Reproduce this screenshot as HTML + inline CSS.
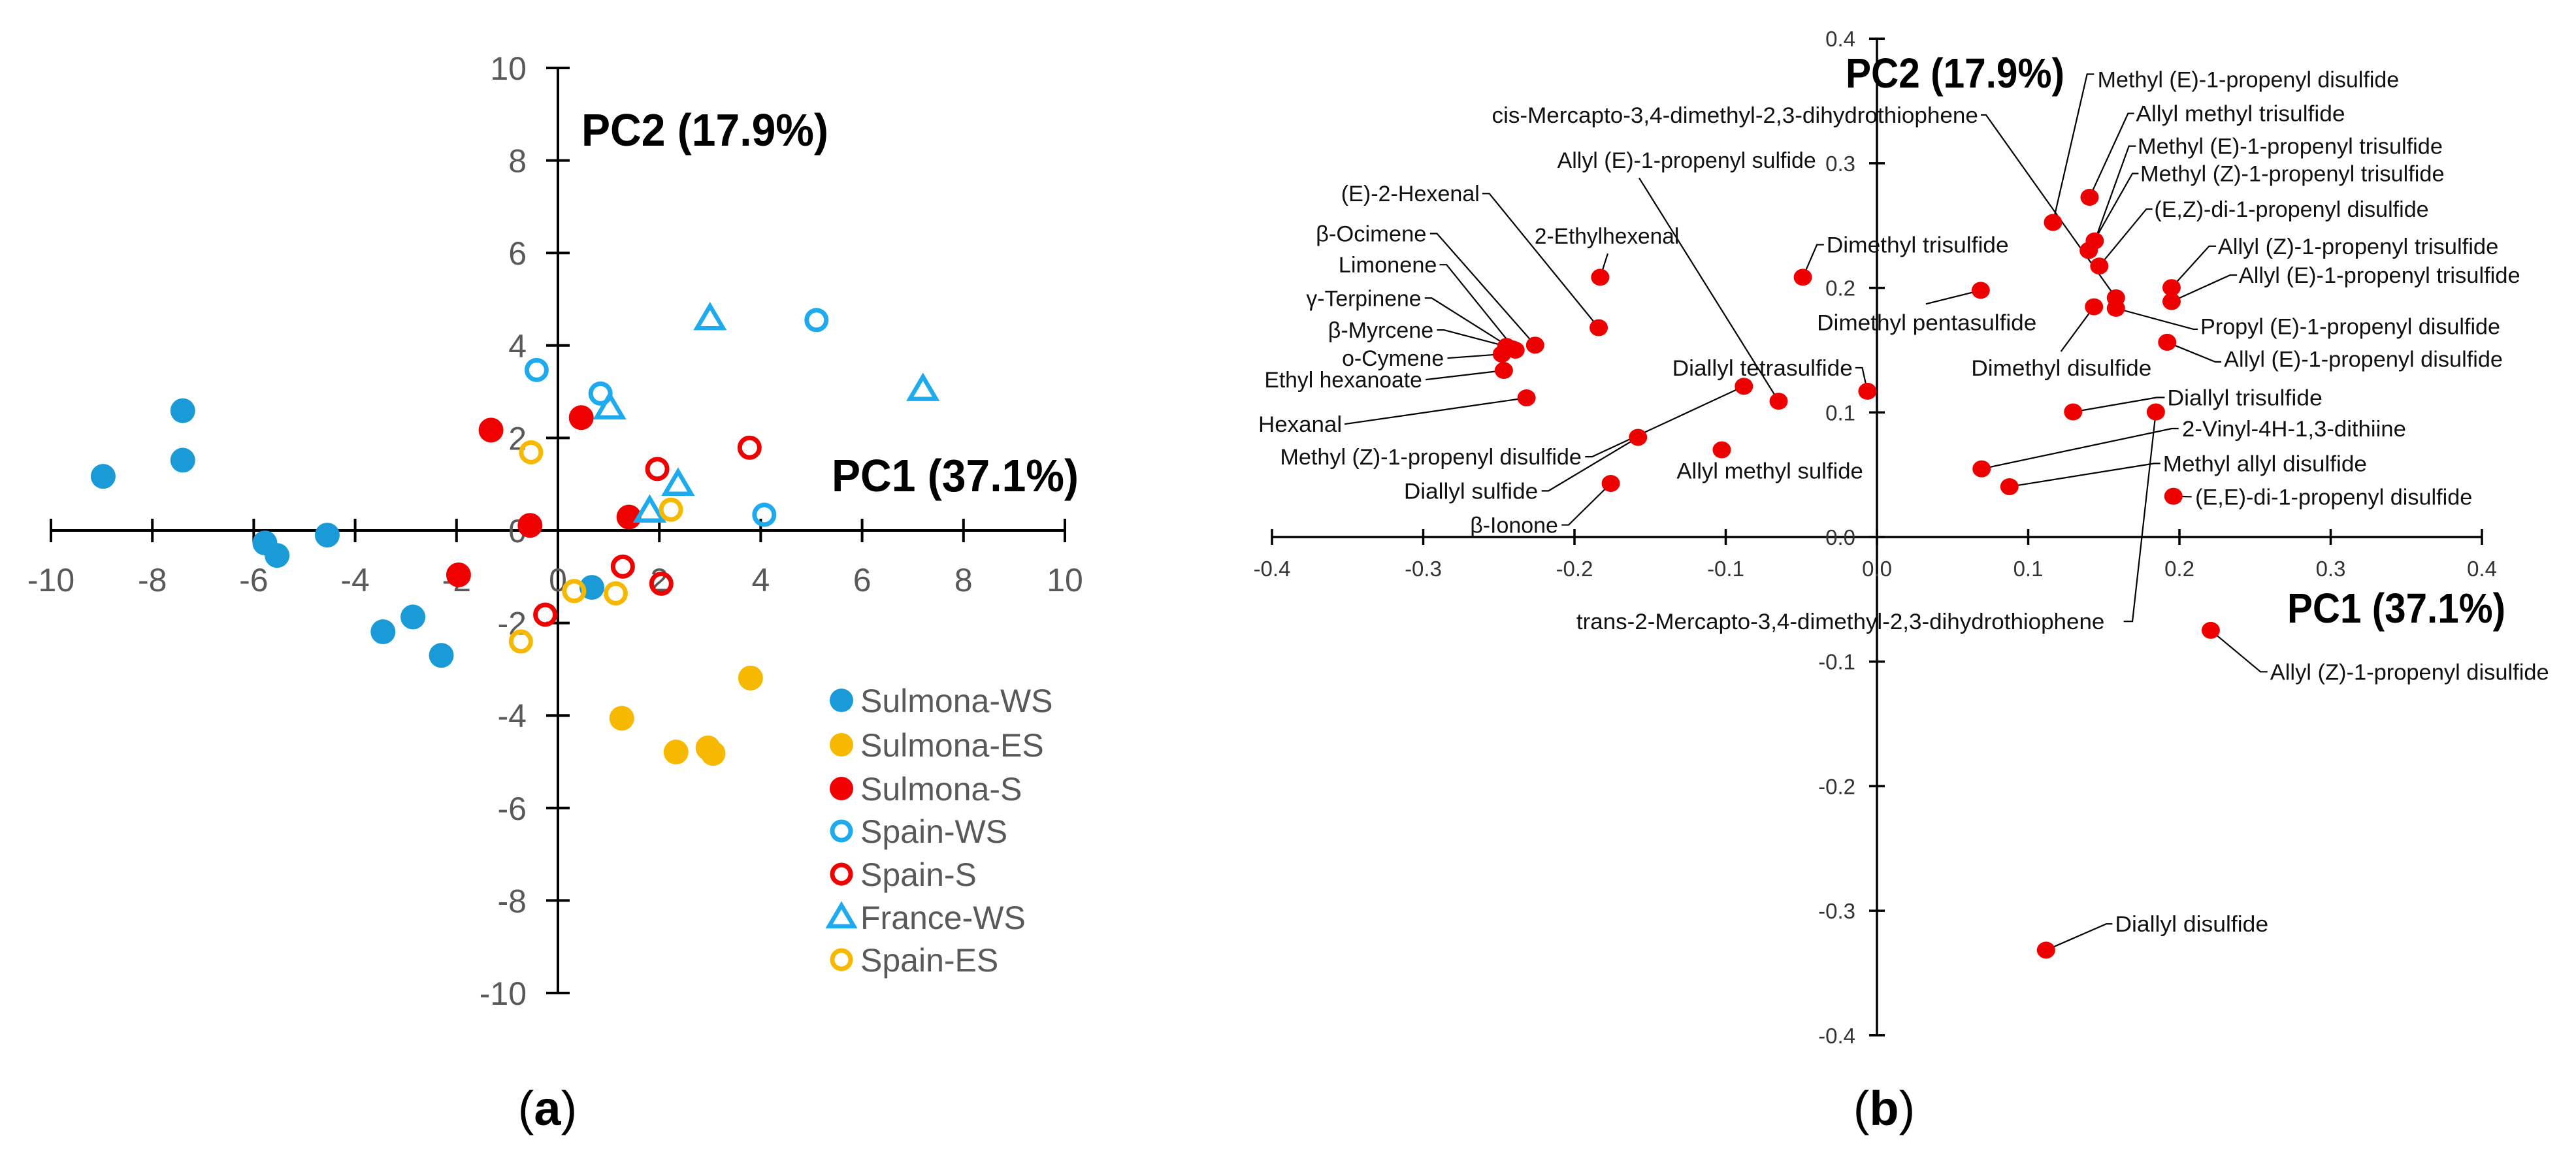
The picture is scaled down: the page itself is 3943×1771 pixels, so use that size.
<!DOCTYPE html>
<html><head><meta charset="utf-8"><style>
html,body{margin:0;padding:0;background:#fff;}
svg{display:block;}
text{font-family:"Liberation Sans",sans-serif;}
</style></head>
<body>
<svg id="fig" width="3943" height="1771" viewBox="0 0 3943 1771" xmlns="http://www.w3.org/2000/svg">
  <g id="left"></g>
  <g id="right"></g>
  <text x="838" y="1722" font-family="Liberation Serif" font-size="74" text-anchor="middle" fill="#000">(<tspan font-weight="bold">a</tspan>)</text>
  <text x="2884" y="1722" font-family="Liberation Serif" font-size="74" text-anchor="middle" fill="#000">(<tspan font-weight="bold">b</tspan>)</text>
</svg>
<script>
// ---------- Scores plot data ----------
const scoreTicks = [-10,-8,-6,-4,-2,0,2,4,6,8,10];
const seriesNames = ["Sulmona-WS","Sulmona-ES","Sulmona-S","Spain-WS","Spain-S","France-WS","Spain-ES"];
const sulmonaWS_x = [-8.97,-7.4,-7.4,-5.78,-5.54,-4.55,-3.45,-2.86,-2.3,0.67];
const sulmonaWS_y = [1.17,2.59,1.52,-0.27,-0.54,-0.1,-2.19,-1.87,-2.7,-1.23];
const sulmonaES_x = [3.8,1.26,2.33,2.96,3.06];
const sulmonaES_y = [-3.19,-4.06,-4.79,-4.7,-4.82];
const sulmonaS_x = [-1.32,0.46,-0.55,-1.96,1.4];
const sulmonaS_y = [2.17,2.44,0.11,-0.96,0.29];
const spainWS_x = [-0.42,0.84,5.1,4.07];
const spainWS_y = [3.47,2.96,4.55,0.34];
const spainS_x = [1.96,3.78,1.28,2.04,-0.25];
const spainS_y = [1.33,1.79,-0.78,-1.15,-1.82];
const franceWS_x = [3.0,7.2,1.02,2.37,1.81];
const franceWS_y = [4.58,3.05,2.65,1.0,0.42];
const spainES_x = [-0.53,2.23,0.32,1.14,-0.73];
const spainES_y = [1.69,0.45,-1.31,-1.36,-2.4];

// ---------- Loadings plot data ----------
const loadTicks = [-0.4,-0.3,-0.2,-0.1,0,0.1,0.2,0.3,0.4];
const loadNames = ["Hexanal","Ethyl hexanoate","o-Cymene","β-Myrcene","γ-Terpinene","Limonene","β-Ocimene","(E)-2-Hexenal","2-Ethylhexenal","Methyl (Z)-1-propenyl disulfide","Diallyl sulfide","β-Ionone","Allyl methyl sulfide","Allyl (E)-1-propenyl sulfide","Diallyl tetrasulfide","Dimethyl trisulfide","Dimethyl pentasulfide","Methyl (E)-1-propenyl disulfide","Allyl methyl trisulfide","Methyl (E)-1-propenyl trisulfide","Methyl (Z)-1-propenyl trisulfide","(E,Z)-di-1-propenyl disulfide","Allyl (Z)-1-propenyl trisulfide","Allyl (E)-1-propenyl trisulfide","Dimethyl disulfide","cis-Mercapto-3,4-dimethyl-2,3-dihydrothiophene","Propyl (E)-1-propenyl disulfide","Allyl (E)-1-propenyl disulfide","Diallyl trisulfide","trans-2-Mercapto-3,4-dimethyl-2,3-dihydrothiophene","2-Vinyl-4H-1,3-dithiine","Methyl allyl disulfide","(E,E)-di-1-propenyl disulfide","Allyl (Z)-1-propenyl disulfide","Diallyl disulfide"];
const loadPC1 = [-0.2317,-0.2467,-0.248,-0.245,-0.241,-0.239,-0.226,-0.184,-0.183,-0.088,-0.158,-0.176,-0.1026,-0.065,-0.0063,-0.049,0.0686,0.1164,0.1406,0.144,0.140,0.147,0.1948,0.1948,0.1435,0.158,0.158,0.1919,0.1297,0.1844,0.0692,0.0876,0.196,0.2207,0.1118];
const loadPC2 = [0.1117,0.1337,0.1468,0.153,0.151,0.150,0.154,0.168,0.2085,0.121,0.080,0.043,0.070,0.109,0.117,0.2085,0.198,0.2525,0.2727,0.2377,0.230,0.2175,0.2002,0.189,0.1848,0.192,0.1836,0.1563,0.1004,0.1004,0.0547,0.0404,0.0327,-0.0749,-0.3316];

const NS = "http://www.w3.org/2000/svg";
function mk(parent, tag, attrs, txt){
  const e = document.createElementNS(NS, tag);
  for (const k in attrs) e.setAttribute(k, attrs[k]);
  if (txt !== undefined) e.textContent = txt;
  parent.appendChild(e);
  return e;
}

// ===== LEFT =====
const L = document.getElementById("left");
const lx = v => 854 + v*77.6;
const ly = v => 812 - v*70.8;
const ax1 = mk(L,"line",{x1:lx(-10),y1:ly(0),x2:lx(10),y2:ly(0),stroke:"#000","stroke-width":4});


const ax2 = mk(L,"line",{x1:lx(0),y1:ly(10),x2:lx(0),y2:ly(-10),stroke:"#000","stroke-width":4});


scoreTicks.forEach(t=>{
  const a = mk(L,"line",{x1:lx(t),y1:ly(0)-18,x2:lx(t),y2:ly(0)+18,stroke:"#000","stroke-width":4});
  
  
  const b = mk(L,"line",{x1:lx(0)-18,y1:ly(t),x2:lx(0)+18,y2:ly(t),stroke:"#000","stroke-width":4});
  
  
  const tx = mk(L,"text",{x:lx(t),y:905,"font-size":50,"text-anchor":"middle",fill:"#595959"},String(t));
  
  
  const ty = mk(L,"text",{x:806,y:ly(t)+18,"font-size":50,"text-anchor":"end",fill:"#595959"},String(t));
  
  
});
const pc2a = mk(L,"text",{x:890,y:223,"font-size":70,"font-weight":"bold",fill:"#000",textLength:378,lengthAdjust:"spacingAndGlyphs"},"PC2 (17.9%)");


const pc1a = mk(L,"text",{x:1273,y:752,"font-size":70,"font-weight":"bold",fill:"#000",textLength:378,lengthAdjust:"spacingAndGlyphs"},"PC1 (37.1%)");



const BLUE="#1a9bd7", BLUE_O="#1eaaee", YEL="#f7b900", RED="#f00000";
function marker(g, cx, cy, type, color, r){
  let e;
  if (type==="fill") e = mk(g,"circle",{cx:cx,cy:cy,r:r,fill:color});
  else if (type==="open") e = mk(g,"circle",{cx:cx,cy:cy,r:r-4,fill:"none",stroke:color,"stroke-width":7});
  else {
    const h=r*1.7, w=r*1.05;
    e = mk(g,"polygon",{points:`${cx},${cy-h*0.6} ${cx+w},${cy+h*0.45} ${cx-w},${cy+h*0.45}`,fill:"none",stroke:color,"stroke-width":6.5,"stroke-linejoin":"miter"});
  }
  return e;
}
const scoreSeries = [
  [sulmonaWS_x,sulmonaWS_y,"fill",BLUE],
  [sulmonaES_x,sulmonaES_y,"fill",YEL],
  [sulmonaS_x,sulmonaS_y,"fill",RED],
  [spainWS_x,spainWS_y,"open",BLUE_O],
  [spainS_x,spainS_y,"open",RED],
  [franceWS_x,franceWS_y,"tri",BLUE_O],
  [spainES_x,spainES_y,"open",YEL]
];
scoreSeries.forEach((s,si)=>{
  const g = mk(L,"g",{});
  
  
  s[0].forEach((xv,i)=>{
    const m = marker(g, lx(xv), ly(s[1][i]), s[2], s[3], 19);
    
    
  });
});
// legend
const legY = [1072,1140,1207,1272,1338,1404,1469];
const leg = mk(L,"g",{});


scoreSeries.forEach((s,si)=>{
  const g = mk(leg,"g",{});
  
  
  marker(g, 1288, legY[si], s[2], s[3], 18);
  mk(g,"text",{x:1317,y:legY[si]+18,"font-size":50,fill:"#595959"},seriesNames[si]);
});

// ===== RIGHT =====
const R = document.getElementById("right");
const rx = v => 2873 + v*2315;
const ry = v => 822 - v*1907;
const bx1 = mk(R,"line",{x1:rx(-0.4),y1:ry(0),x2:rx(0.4),y2:ry(0),stroke:"#000","stroke-width":3.5});


const bx2 = mk(R,"line",{x1:rx(0),y1:ry(0.4),x2:rx(0),y2:ry(-0.4),stroke:"#000","stroke-width":3.5});


loadTicks.forEach(t=>{
  const a = mk(R,"line",{x1:rx(t),y1:ry(0)-12,x2:rx(t),y2:ry(0)+12,stroke:"#000","stroke-width":3.5});
  
  
  const b = mk(R,"line",{x1:rx(0)-12,y1:ry(t),x2:rx(0)+12,y2:ry(t),stroke:"#000","stroke-width":3.5});
  
  
  const lab = t.toFixed(1);
  const tx = mk(R,"text",{x:rx(t),y:882,"font-size":33,"text-anchor":"middle",fill:"#333"},lab);
  
  
  const ty = mk(R,"text",{x:2840,y:ry(t)+12,"font-size":33,"text-anchor":"end",fill:"#333"},lab);
  
  
});
const pc2b = mk(R,"text",{x:2825,y:134,"font-size":64,"font-weight":"bold",fill:"#000",textLength:335,lengthAdjust:"spacingAndGlyphs"},"PC2 (17.9%)");


const pc1b = mk(R,"text",{x:3501,y:953,"font-size":64,"font-weight":"bold",fill:"#000",textLength:334,lengthAdjust:"spacingAndGlyphs"},"PC1 (37.1%)");



// label layout (reference-zoom coordinates converted below): [pointIndex, x1, x2, yc, leader elbow pts]
const labelLayout = [
 [0,57,153,572,[[156,572]]],
 [1,64,245,512,[[249,512]]],
 [2,153,270,483,[[274,483]]],
 [3,137,258,445,[[262,445],[270,445]]],
 [4,112,244,402,[[248,402],[256,402]]],
 [5,149,262,357,[[265,357],[273,357]]],
 [6,123,250,315,[[254,315],[262,315]]],
 [7,152,311,261,[[314,261],[322,261]]],
 [8,374,540,318,[[458,342]]],
 [9,82,428,616,[[432,616],[440,616]]],
 [10,224,378,662,[[382,662],[390,662]]],
 [11,300,401,708,[[405,708],[413,708]]],
 [12,537,751,635,[]],
 [13,400,697,216,[[494,240]]],
 [14,532,739,496,[[742,496],[750,496]]],
 [15,709,918,330,[[706,330],[698,330]]],
 [16,698,950,435,[[823,410]]],
 [17,1020,1366,107,[[1016,100],[1008,100]]],
 [18,1064,1304,153,[[1062,153],[1055,153]]],
 [19,1066,1416,197,[[1064,197],[1056,197]]],
 [20,1069,1418,234,[[1067,234],[1060,234]]],
 [21,1085,1400,282,[[1083,282],[1076,282]]],
 [22,1158,1480,332,[[1156,332],[1148,332]]],
 [23,1182,1505,371,[[1180,371],[1172,371]]],
 [24,875,1082,496,[[978,474]]],
 [25,325,883,155,[[886,155],[892,155]]],
 [26,1138,1482,440,[[1135,444],[1130,444]]],
 [27,1165,1485,484,[[1162,488],[1155,488]]],
 [28,1100,1278,536,[[1097,536],[1088,536]]],
 [29,422,1028,838,[[1050,838],[1060,838]]],
 [30,1117,1374,578,[[1113,578],[1105,578]]],
 [31,1095,1329,625,[[1092,625],[1085,625]]],
 [32,1132,1450,670,[[1128,670]]],
 [33,1218,1538,906,[[1215,906],[1207,906]]],
 [34,1040,1216,1246,[[1037,1246],[1030,1246]]]
];
const zX = v => 1850 + v*1.334;
const zY = v => v*1.135;
const leaders = mk(R,"g",{});


labelLayout.forEach(l=>{
  const idx=l[0];
  const txt = mk(R,"text",{x:zX(l[1]),y:zY(l[3])+12,"font-size":34,fill:"#111",textLength:(l[2]-l[1])*1.334,lengthAdjust:"spacingAndGlyphs"},loadNames[idx]);
  
  
  if (l[4].length){
    const pts = l[4].map(p=>zX(p[0])+","+zY(p[1]));
    pts.push(rx(loadPC1[idx])+","+ry(loadPC2[idx]));
    const pl = mk(leaders,"polyline",{points:pts.join(" "),fill:"none",stroke:"#000","stroke-width":2.2});
    
    
  }
});
const pg = mk(R,"g",{});


loadPC1.forEach((v,i)=>{
  const c = mk(pg,"ellipse",{cx:rx(v),cy:ry(loadPC2[i]),rx:14,ry:13,fill:"#ee0000"});
  
  
});
</script>
</body></html>
